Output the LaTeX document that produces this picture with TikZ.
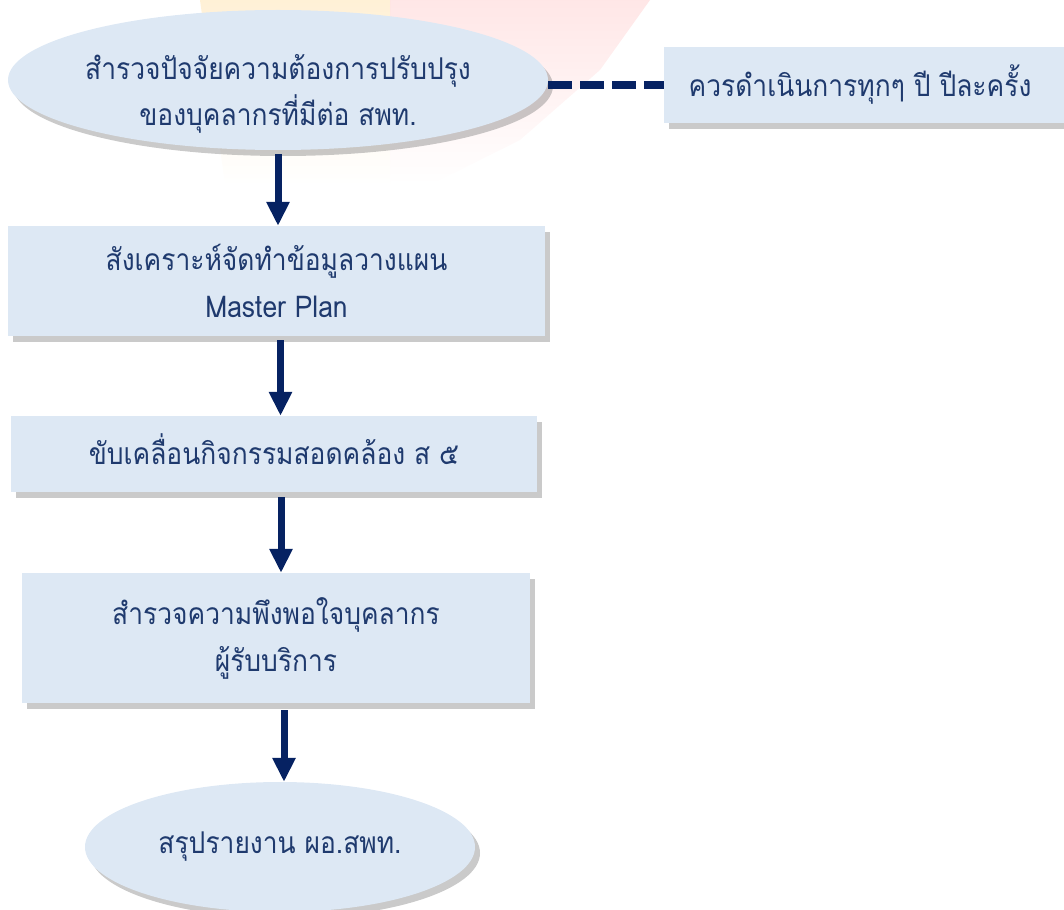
\documentclass[tikz,border=0pt]{standalone}
\usepackage{fontspec}
\newfontfamily\thaiwide[Script=Thai,FakeStretch=0.88]{Loma}
\usetikzlibrary{shapes.geometric,shadows,arrows.meta,calc}
\definecolor{boxfill}{HTML}{DDE8F4}
\definecolor{navytext}{HTML}{1F3A6E}
\definecolor{arrowcol}{HTML}{062262}
\tikzset{
  base/.style={fill=boxfill, draw=none, text=navytext, inner sep=0pt, align=center,
    font=\thaiwide\fontsize{30}{47}\selectfont,
    drop shadow={shadow xshift=5pt, shadow yshift=-6pt, opacity=0.35, fill=gray!80!black}},
  stepbox/.style={base, rectangle},
  oval/.style={base, ellipse},
  txt/.style={text=navytext, align=center, font=\thaiwide\fontsize{30}{46}\selectfont},
  flow/.style={arrowcol, line width=7pt, -{Triangle[width=22pt,length=24pt]}},
  linkdash/.style={arrowcol, line width=8pt, dash pattern=on 24pt off 8pt},
}
\begin{document}
\begin{tikzpicture}[x=1pt,y=-1pt]
\useasboundingbox (0,0) rectangle (1064,909);
% faint background watermark
\begin{scope}[opacity=0.16]
  \shade[top color=orange!70!yellow, bottom color=white] (200,0) -- (390,0) -- (390,185) -- (225,185) -- cycle;
  \shade[top color=red!60, bottom color=white] (390,0) -- (650,0) -- (600,70) -- (520,140) -- (430,185) -- (390,185) -- cycle;
\end{scope}
\node[oval, minimum width=540pt, minimum height=140pt,
  label={[txt, yshift=-14pt]center:สำรวจปัจจัยความต้องการปรับปรุง\\ของบุคลากรที่มีต่อ สพท.}] (e1) at (278,80) {};
\node[stepbox, minimum width=406pt, minimum height=76pt] (note) at (867,85)
  {\hspace*{-14pt}ควรดำเนินการทุกๆ ปี ปีละครั้ง};
\node[stepbox, minimum width=537pt, minimum height=110pt] (b2) at (276.5,281)
  {สังเคราะห์จัดทำข้อมูลวางแผน\\Master Plan};
\node[stepbox, minimum width=526pt, minimum height=76pt,
  label={[txt, yshift=5pt]center:ขับเคลื่อนกิจกรรมสอดคล้อง ส ๕}] (b3) at (274,454) {};
\node[stepbox, minimum width=508pt, minimum height=130pt] (b4) at (276,638)
  {สำรวจความพึงพอใจบุคลากร\\ผู้รับบริการ};
\node[oval, minimum width=390pt, minimum height=130pt] (e5) at (280,847)
  {สรุปรายงาน ผอ.สพท.};
\coordinate (a1s) at ($(e1.south)+(0,4)$);
\coordinate (a2s) at ($(b2.south)+(4,4)$);
\coordinate (a3s) at ($(b3.south)+(7,5)$);
\coordinate (a4s) at ($(b4.south)+(8,7)$);
\draw[flow] (a1s) -- (a1s |- b2.north);
\draw[flow] (a2s) -- (a2s |- b3.north);
\draw[flow] (a3s) -- (a3s |- b4.north);
\draw[flow] (a4s) -- (a4s |- e5.north);
\draw[linkdash] (e1.east |- note.west) -- (note.west);
\end{tikzpicture}
\end{document}
